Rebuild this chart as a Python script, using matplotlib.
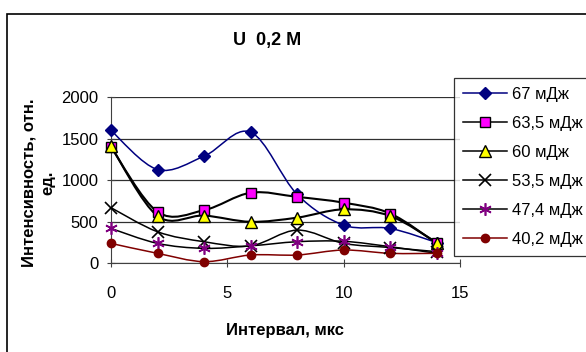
import matplotlib.pyplot as plt
from matplotlib.path import Path
from matplotlib.patches import PathPatch, Rectangle
import numpy as np

plt.rcParams['font.family'] = ['Liberation Sans', 'DejaVu Sans']

x = [0, 2, 4, 6, 8, 10, 12, 14]
e67 = [1600, 1130, 1290, 1580, 830, 460, 420, 250]
e635 = [1400, 620, 640, 850, 800, 730, 600, 240]
e60 = [1410, 570, 575, 500, 550, 650, 570, 250]
e535 = [670, 380, 260, 210, 400, 240, 190, 140]
e474 = [420, 240, 180, 210, 260, 265, 200, 120]
e402 = [240, 120, 20, 100, 100, 160, 120, 120]

series = [
    ('67 мДж', e67, '#000080', dict(marker='D', mfc='#000080', mec='#000080', ms=6)),
    ('63,5 мДж', e635, 'black', dict(marker='s', mfc='#ff00ff', mec='black', ms=7)),
    ('60 мДж', e60, 'black', dict(marker='^', mfc='#ffff00', mec='black', ms=8)),
    ('53,5 мДж', e535, 'black', dict(marker='x', mfc='none', mec='black', ms=8, mew=1.2)),
    ('47,4 мДж', e474, 'black', dict(marker=(6, 2, 0), mfc='none', mec='#800080', ms=9, mew=1.2)),
    ('40,2 мДж', e402, '#800000', dict(marker='o', mfc='#800000', mec='#800000', ms=6)),
]


def smooth_path(xs, ys):
    # Excel-style smoothed line: cubic bezier segments through the points
    p = np.column_stack([xs, ys]).astype(float)
    ext = np.vstack([p[0], p, p[-1]])
    verts = [p[0]]
    codes = [Path.MOVETO]
    for i in range(len(p) - 1):
        c1 = ext[i + 1] + (ext[i + 2] - ext[i]) / 6
        c2 = ext[i + 2] - (ext[i + 3] - ext[i + 1]) / 6
        verts += [c1, c2, ext[i + 2]]
        codes += [Path.CURVE4] * 3
    return Path(verts, codes)


fs = 12
fig = plt.figure(figsize=(5.86, 3.52), dpi=100)
fig.patches.append(Rectangle((7 / 586, -0.1), 1.2, 1 - 14 / 352 + 0.1,
                             transform=fig.transFigure, fill=False,
                             edgecolor='black', lw=1.2))

ax = fig.add_axes([111 / 586, 1 - 263.3 / 352, (460 - 111) / 586, (263.3 - 97.3) / 352])
ax.set_xlim(0, 15)
ax.set_ylim(0, 2000)
ax.set_xticks([0, 5, 10, 15])
ax.set_yticks([0, 500, 1000, 1500, 2000])
for s in ['top', 'right']:
    ax.spines[s].set_visible(False)
ax.spines['left'].set_color('#404040')
ax.spines['bottom'].set_color('#404040')
ax.tick_params(direction='inout', length=6, width=0.8, colors='#404040',
               labelcolor='black', labelsize=fs)
ax.tick_params(axis='y', pad=6)
ax.tick_params(axis='x', pad=13)
ax.yaxis.grid(True, color='#303030', lw=0.9)
ax.set_axisbelow(True)

handles = []
for label, ys, col, mk in series:
    lw = 1.5 if label in ('63,5 мДж', '60 мДж') else 1.1
    ax.add_patch(PathPatch(smooth_path(x, ys), facecolor='none', edgecolor=col, lw=lw, zorder=3))
    ax.plot(x, ys, linestyle='none', zorder=4, clip_on=False, **mk)
    h, = ax.plot([], [], color=col, lw=1.1, **mk)
    h.set_label(label)
    handles.append(h)

ax.set_xlabel('Интервал, мкс', fontsize=fs, fontweight='bold', labelpad=16)
fig.text(38.5 / 586, 1 - 183 / 352, 'Интенсивность, отн.\nед.', rotation=90,
         ha='center', va='center', multialignment='center',
         fontsize=fs, fontweight='bold', linespacing=1.3)
fig.text(267 / 586, 1 - 40 / 352, 'U  0,2 M', ha='center', va='center',
         fontsize=13, fontweight='bold')

leg = fig.legend(handles=handles, loc='upper left', bbox_to_anchor=(454 / 586, 1 - 78 / 352),
                 frameon=True, fancybox=False, fontsize=fs, handlelength=2.6,
                 labelspacing=0.84, borderpad=0.55, handletextpad=0.3, borderaxespad=0)
leg.get_frame().set_edgecolor('black')
leg.get_frame().set_linewidth(0.9)

fig.savefig('out.png', dpi=100)
